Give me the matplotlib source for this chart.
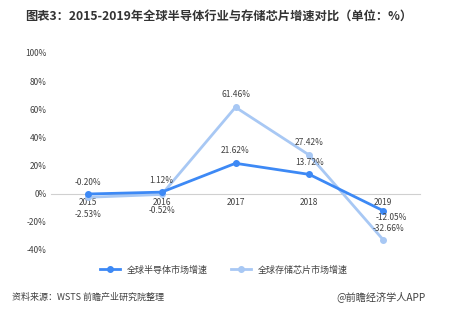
import matplotlib.pyplot as plt

plt.rcParams['font.family'] = ['Noto Sans CJK SC', 'DejaVu Sans']

years = ['2015', '2016', '2017', '2018', '2019']
semi = [-0.20, 1.12, 21.62, 13.72, -12.05]
memory = [-2.53, -0.52, 61.46, 27.42, -32.66]
semi_name = '全球半导体市场增速'
memory_name = '全球存储芯片市场增速'
yticks = [-40, -20, 0, 20, 40, 60, 80, 100]

dark = '#3d89f5'
light = '#a8c8f4'
txt = '#404040'

fig = plt.figure(figsize=(4.56, 3.11), dpi=100)
ax = fig.add_axes([51 / 456, 1 - 250 / 311, 369 / 456, 197 / 311])

# spine at zero first (set_position resets ticks)
for s in ['top', 'right', 'left']:
    ax.spines[s].set_visible(False)
ax.spines['bottom'].set_position(('data', 0))
ax.spines['bottom'].set_color('#d0d0d0')
ax.spines['bottom'].set_linewidth(0.8)
ax.spines['bottom'].set_zorder(1)

x = list(range(len(years)))
ax.plot(x, memory, color=light, lw=2, marker='o', ms=4, label=memory_name, zorder=2)
ax.plot(x, semi, color=dark, lw=2, marker='o', ms=4, label=semi_name, zorder=3)

# data labels
semi_off = [(0, 5), (0, 5), (0, 6), (0, 5), (6, -2)]
mem_off = [(0, -9), (0, -8), (0, 6), (0, 6), (4, 5)]
for i in x:
    dx, dy = semi_off[i]
    ax.annotate(f'{semi[i]:.2f}%', (i, semi[i]), xytext=(dx, dy), textcoords='offset points',
                ha='center', va='bottom' if dy > 0 else 'top', fontsize=6, color=txt)
    dx, dy = mem_off[i]
    ax.annotate(f'{memory[i]:.2f}%', (i, memory[i]), xytext=(dx, dy), textcoords='offset points',
                ha='center', va='bottom' if dy > 0 else 'top', fontsize=6, color=txt)

ax.set_xlim(-0.5, 4.5)
ax.set_ylim(-40, 100)
ax.set_yticks(yticks)
ax.set_yticklabels([f'{v}%' for v in yticks], fontsize=6, color=txt)
ax.set_xticks(x)
ax.set_xticklabels(years, fontsize=6, color=txt)
ax.tick_params(length=0, pad=3)

h, l = ax.get_legend_handles_labels()
fig.legend(h[::-1], l[::-1], loc='center', bbox_to_anchor=(224 / 456, 1 - 270 / 311), ncol=2,
           frameon=False, fontsize=6.5, handlelength=2.2, columnspacing=2.5, labelcolor=txt)

fig.text(25 / 456, 1 - 16 / 311, '图表3：2015-2019年全球半导体行业与存储芯片增速对比（单位：%）',
         fontsize=8.8, fontweight='bold', color='#333333', va='center')
fig.text(12 / 456, 1 - 297 / 311, '资料来源：WSTS 前瞻产业研究院整理', fontsize=6.5, color=txt, va='center')
fig.text(426 / 456, 1 - 297 / 311, '@前瞻经济学人APP', fontsize=7.3, color=txt, va='center', ha='right')

fig.savefig('out.png', dpi=100)
